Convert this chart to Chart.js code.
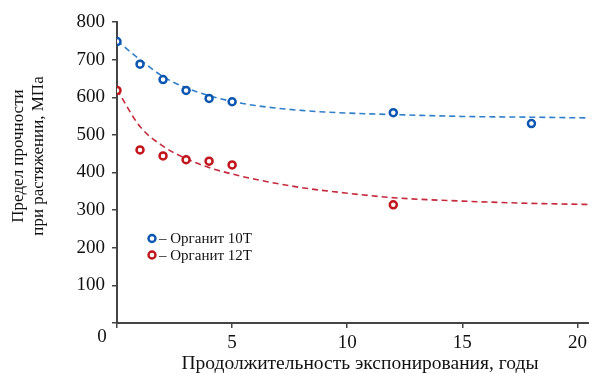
<!DOCTYPE html>
<html><head><meta charset="utf-8">
<script src="https://cdn.jsdelivr.net/npm/chart.js@4"></script>
<style>html,body{margin:0;padding:0;background:#fff}#wrap{width:589px;height:374px}</style>
</head><body><div id="wrap"><canvas id="c" width="589" height="374"></canvas></div>
<script>
const seriesLabels = ['Органит 10Т', 'Органит 12Т'];
const years10 = [0, 1, 2, 3, 4, 5, 12, 18];
const strength10 = [748, 688, 647, 618, 597, 588, 559, 530];
const years12 = [0, 1, 2, 3, 4, 5, 12];
const strength12 = [618, 460, 444, 434, 430, 420, 314];
const fitYears = [0, 1, 2, 3, 4, 5, 6, 8, 10, 12, 15, 18, 20.5];
const fit10 = [750, 700, 655, 625, 604, 589, 578, 565, 558, 554, 549, 547, 545];
const fit12 = [620, 522, 470, 437, 413, 396, 382, 360, 345, 333, 324, 318, 315];
const xTicks = [0, 5, 10, 15, 20];
const xTitle = 'Продолжительность экспонирования, годы';
const yTitle = ['Предел прочности', 'при растяжении, МПа'];

const toPts = (xs, ys) => xs.map((x, i) => ({x, y: ys[i]}));
const BLUE = '#0b56b0', BLUE_L = '#2f7fc9', RED = '#c0161c', RED_L = '#c42a3c';
const serif = '"Liberation Serif", "Times New Roman", serif';

const extras = {
  id: 'extras',
  afterDraw(chart) {
    const ctx = chart.ctx, a = chart.chartArea;
    ctx.save();
    ctx.fillStyle = '#111';
    ctx.textAlign = 'center'; ctx.textBaseline = 'middle';
    // shared origin label
    ctx.font = '19px ' + serif;
    ctx.fillText('0', a.left - 15, a.bottom + 14);
    // x title
    ctx.font = '19.5px ' + serif;
    ctx.fillText(xTitle, 360, a.bottom + 41);
    // y title (two lines, rotated)
    ctx.save();
    ctx.translate(0, 156);
    ctx.rotate(-Math.PI / 2);
    ctx.font = '17px ' + serif;
    ctx.fillText(yTitle[0], 0, 19);
    ctx.fillText(yTitle[1], 0, 39);
    ctx.restore();
    // legend inside plot
    const items = [{c: BLUE, t: seriesLabels[0]}, {c: RED, t: seriesLabels[1]}];
    items.forEach((it, i) => {
      const y = 238.5 + i * 16.5, x = 152;
      ctx.beginPath(); ctx.arc(x, y, 3.5, 0, Math.PI * 2);
      ctx.fillStyle = '#fff'; ctx.fill();
      ctx.lineWidth = 2.4; ctx.strokeStyle = it.c; ctx.stroke();
      ctx.fillStyle = '#111'; ctx.font = '15px ' + serif;
      ctx.textAlign = 'left'; ctx.textBaseline = 'middle';
      ctx.fillText('– ' + it.t, 159, y + 1);
    });
    ctx.restore();
  }
};

new Chart(document.getElementById('c'), {
  type: 'scatter',
  data: {
    datasets: [
      {label: seriesLabels[0] + ' fit', data: toPts(fitYears, fit10), showLine: true, pointRadius: 0,
       borderColor: BLUE_L, borderWidth: 1.6, borderDash: [6, 4], cubicInterpolationMode: 'monotone', order: 3},
      {label: seriesLabels[1] + ' fit', data: toPts(fitYears, fit12), showLine: true, pointRadius: 0,
       borderColor: RED_L, borderWidth: 1.6, borderDash: [6, 4], cubicInterpolationMode: 'monotone', order: 3},
      {label: seriesLabels[0], data: toPts(years10, strength10), pointRadius: 3.5, pointBorderWidth: 2.5,
       pointBackgroundColor: '#fff', pointBorderColor: BLUE, order: 1},
      {label: seriesLabels[1], data: toPts(years12, strength12), pointRadius: 3.5, pointBorderWidth: 2.5,
       pointBackgroundColor: '#fff', pointBorderColor: RED, order: 1}
    ]
  },
  options: {
    responsive: false, animation: false, devicePixelRatio: 1,
    layout: {autoPadding: false, padding: {top: 22, right: 0, left: 0, bottom: 0}},
    plugins: {legend: {display: false}, tooltip: {enabled: false}},
    scales: {
      x: {
        type: 'linear', min: 0, max: 20.5,
        afterBuildTicks(s) { s.ticks = xTicks.map(v => ({value: v})); },
        afterFit(s) { s.height = 51; s.paddingRight = 0; s.paddingLeft = 0; },
        border: {display: true, color: '#444', width: 2},
        grid: {drawOnChartArea: false, drawTicks: true, tickLength: 5, color: '#444', lineWidth: 1.5},
        ticks: {font: {family: serif, size: 19}, color: '#111', padding: 4, maxRotation: 0,
                callback: v => v === 0 ? '' : String(v)},
        title: {display: false}
      },
      y: {
        min: 0, max: 800,
        ticks: {stepSize: 100, font: {family: serif, size: 19}, color: '#111', padding: 7,
                callback: v => v === 0 ? '' : String(v)},
        afterFit(s) { s.width = 117; s.paddingTop = 0; s.paddingBottom = 0; },
        border: {display: true, color: '#444', width: 2},
        grid: {drawOnChartArea: false, drawTicks: true, tickLength: 5, color: '#444', lineWidth: 1.5},
        title: {display: false}
      }
    }
  },
  plugins: [extras]
});
</script></body></html>
